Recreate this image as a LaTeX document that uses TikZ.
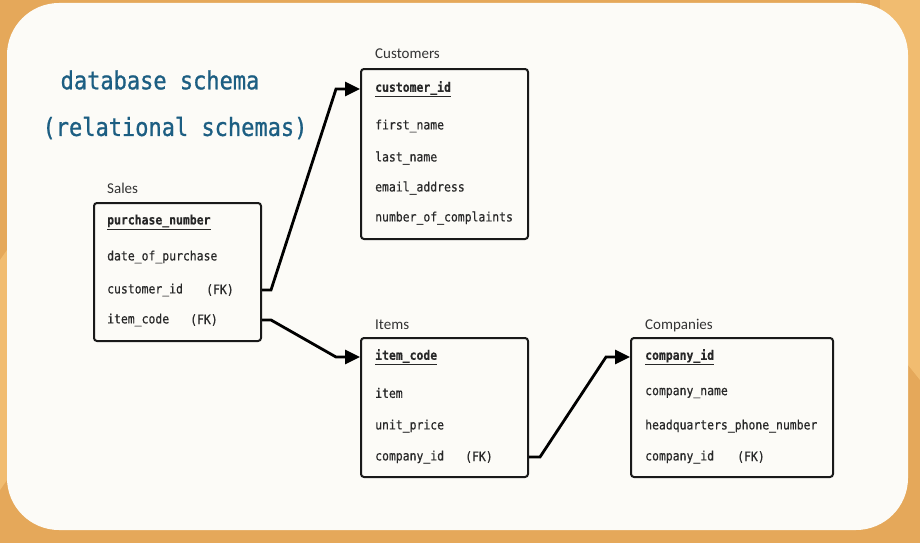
\documentclass[tikz,border=0pt]{standalone}
\usepackage{fontspec}
\setmainfont{Carlito}
\newfontfamily\monof[FakeStretch=0.88,FakeBold=0.4]{DejaVu Sans Mono}
\newfontfamily\headf[FakeStretch=0.88,FakeBold=0.9]{DejaVu Sans Mono}
\usetikzlibrary{arrows.meta,calc}

\definecolor{frameorange}{RGB}{229,168,90}
\definecolor{framelight}{RGB}{241,188,112}
\definecolor{panel}{RGB}{252,251,247}
\definecolor{titleblue}{RGB}{28,94,130}
\definecolor{fieldgray}{RGB}{40,40,40}

\tikzset{
  tablebox/.style={draw=black!90, line width=2pt, rounded corners=3pt,
    fill=panel, anchor=north west, inner sep=0pt},
  tabletitle/.style={anchor=base west, inner sep=0pt, text=black!80,
    font=\fontsize{15}{17}\selectfont},
  field/.style={anchor=west, inner sep=0pt, text=fieldgray,
    font=\monof\fontsize{13}{15}\selectfont},
  keyfield/.style={field, font=\monof\bfseries\fontsize{13}{15}\selectfont},
  fk/.style={field},
  conn/.style={draw=black, line width=2.8pt, line join=miter,
    -{Triangle[length=15pt,width=14pt]}},
  headline/.style={anchor=center, inner sep=0pt, text=titleblue,
    font=\headf\fontsize{25}{29}\selectfont}
}

\begin{document}
\begin{tikzpicture}[x=1pt,y=-1pt]
  % frame and panel
  \useasboundingbox (0,0) rectangle (920,543);
  \fill[frameorange] (0,0) rectangle (920,543);
  \fill[framelight] (880,0) -- (920,0) -- (920,380) -- (880,330) -- cycle;
  \fill[framelight] (0,260) -- (7,250) -- (7,480) -- (0,490) -- cycle;
  \fill[panel, rounded corners=52pt] (7,3) rectangle (908,530);

  % heading
  \node[headline] (h1) at (160,80) {database schema};
  \node[headline] (h2) at (175,128) {(relational schemas)};

  % Customers
  \node[tablebox, minimum width=167pt, minimum height=170pt] (cust) at (360,68) {};
  \node[tabletitle] (custt) at (375,59) {Customers};
  \node[keyfield] (cid) at (375,89) {\underline{customer\_id}};
  \node[field] (cf1) at (375,126) {first\_name};
  \node[field] (cf2) at (375,158) {last\_name};
  \node[field] (cf3) at (375,188) {email\_address};
  \node[field] (cf4) at (375,218) {number\_of\_complaints};

  % Sales
  \node[tablebox, minimum width=167pt, minimum height=138pt] (sales) at (93,202) {};
  \node[tabletitle] (salest) at (107,193) {Sales};
  \node[keyfield] (pn) at (107,222) {\underline{purchase\_number}};
  \node[field] (sf1) at (107,257) {date\_of\_purchase};
  \node[field] (scid) at (107,290) {customer\_id};
  \node[fk] (scidfk) at (206,290) {(FK)};
  \node[field] (sic) at (107,320) {item\_code};
  \node[fk] (sicfk) at (190,320) {(FK)};

  % Items
  \node[tablebox, minimum width=167pt, minimum height=139pt] (items) at (360,337) {};
  \node[tabletitle] (itemst) at (375,329) {Items};
  \node[keyfield] (ic) at (375,357) {\underline{item\_code}};
  \node[field] (if1) at (375,393) {item};
  \node[field] (if2) at (375,426) {unit\_price};
  \node[field] (icid) at (375,457) {company\_id};
  \node[fk] (icidfk) at (465,457) {(FK)};

  % Companies
  \node[tablebox, minimum width=202pt, minimum height=139pt] (comp) at (630,337) {};
  \node[tabletitle] (compt) at (645,329) {Companies};
  \node[keyfield] (coid) at (645,357) {\underline{company\_id}};
  \node[field] (pf1) at (645,393) {company\_name};
  \node[field] (pf2) at (645,426) {headquarters\_phone\_number};
  \node[field] (pcid) at (645,457) {company\_id};
  \node[fk] (pcidfk) at (737,457) {(FK)};

  % foreign key links
  \draw[conn] (sales.east |- scid.center) -- ++(9,0)
    -- ($(cust.west |- cid.center)+(-24,0)$) -- (cust.west |- cid.center);
  \draw[conn] (sales.east |- sic.center) -- ++(9,0)
    -- ($(items.west |- ic.center)+(-24,0)$) -- (items.west |- ic.center);
  \draw[conn] (items.east |- icid.center) -- ++(11,0)
    -- ($(comp.west |- coid.center)+(-24,0)$) -- (comp.west |- coid.center);
\end{tikzpicture}
\end{document}
